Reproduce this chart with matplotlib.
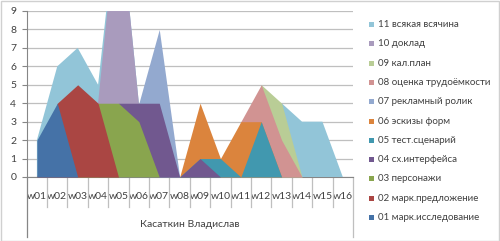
import matplotlib
matplotlib.use("Agg")
import matplotlib.pyplot as plt
from matplotlib.patches import Rectangle
import numpy as np

plt.rcParams['font.family'] = ['Lato', 'DejaVu Sans']

weeks = ['w%02d' % i for i in range(1, 17)]
group_label = 'Касаткин Владислав'

names = [
    '01 марк.исследование', '02 марк.предложение', '03 персонажи',
    '04 сх.интерфейса', '05 тест.сценарий', '06 эскизы форм',
    '07 рекламный ролик', '08 оценка трудоёмкости', '09 кал.план',
    '10 доклад', '11 всякая всячина',
]

s01 = [2, 4, 0, 0, 0, 0, 0, 0, 0, 0, 0, 0, 0, 0, 0, 0]
s02 = [0, 4, 5, 4, 0, 0, 0, 0, 0, 0, 0, 0, 0, 0, 0, 0]
s03 = [0, 0, 0, 4, 4, 3, 0, 0, 0, 0, 0, 0, 0, 0, 0, 0]
s04 = [0, 0, 0, 0, 4, 4, 4, 0, 1, 0, 0, 0, 0, 0, 0, 0]
s05 = [0, 0, 0, 0, 0, 0, 0, 0, 1, 1, 0, 3, 0, 0, 0, 0]
s06 = [0, 0, 0, 0, 0, 0, 0, 0, 4, 1, 3, 3, 0, 0, 0, 0]
s07 = [0, 0, 0, 0, 0, 4, 8, 0, 0, 0, 0, 0, 0, 0, 0, 0]
s08 = [0, 0, 0, 0, 0, 0, 0, 0, 0, 0, 3, 5, 2, 0, 0, 0]
s09 = [0, 0, 0, 0, 0, 0, 0, 0, 0, 0, 0, 5, 4, 0, 0, 0]
s10 = [0, 0, 0, 4, 15, 4, 0, 0, 0, 0, 0, 0, 0, 0, 0, 0]
s11 = [2, 6, 7, 5, 15, 4, 0, 0, 0, 0, 0, 0, 4, 3, 3, 0]
series = [s01, s02, s03, s04, s05, s06, s07, s08, s09, s10, s11]

colors = ['#4572A7', '#AA4643', '#89A54E', '#71588F', '#4198AF', '#DB843D',
          '#93A9CF', '#D19392', '#B9CD96', '#A99BBD', '#92C5D8']

text_color = '#404040'
grid_color = '#BFBFBF'
axis_color = '#868686'

fig = plt.figure(figsize=(5, 2.41), dpi=100)
ax = fig.add_axes([26.7 / 500, 1 - 177 / 241, (353 - 26.7) / 500, 166 / 241])

x = np.arange(len(weeks))
# series 11 at the back, series 01 in front
for i in range(len(series) - 1, -1, -1):
    ax.fill_between(x, 0, series[i], color=colors[i], lw=0, zorder=2 + (len(series) - i))

ax.set_xlim(-0.5, len(weeks) - 0.5)
ax.set_ylim(0, 9)
ax.set_yticks(range(0, 10))
ax.yaxis.grid(True, color=grid_color, lw=0.9)
ax.set_axisbelow(True)
for sp in ['top', 'right']:
    ax.spines[sp].set_visible(False)
ax.spines['left'].set_color(axis_color)
ax.spines['bottom'].set_color(axis_color)
ax.tick_params(axis='y', length=3.5, color=axis_color, labelsize=7.5,
               labelcolor=text_color, pad=4)
ax.set_xticks(x)
ax.set_xticklabels(weeks)
ax.tick_params(axis='x', length=0, labelsize=7.5, labelcolor=text_color, pad=11)

# category label dividers
tr = ax.get_xaxis_transform()
inner = -30 / 166
outer = -60 / 166
for b in np.arange(0.5, len(weeks) - 1, 1.0):
    ax.plot([b, b], [0, inner], transform=tr, color=grid_color, lw=0.9, clip_on=False)
for b in [-0.5, len(weeks) - 0.5]:
    ax.plot([b, b], [0, outer], transform=tr, color=axis_color if b < 0 else grid_color,
            lw=0.9, clip_on=False)
ax.text((len(weeks) - 1) / 2, -47 / 166, group_label, transform=tr, ha='center',
        va='center', fontsize=7.5, color=text_color)

# legend, 11 at top
leg_x = 369 / 500
top_y = 24.5
step = 19.3
for k, i in enumerate(range(len(names) - 1, -1, -1)):
    yc = 1 - (top_y + k * step) / 241
    fig.patches.append(Rectangle((leg_x, yc - 2.5 / 241), 5 / 500, 5 / 241,
                                 transform=fig.transFigure, color=colors[i], lw=0))
    fig.text(378 / 500, yc, names[i], ha='left', va='center', fontsize=7,
             color=text_color)

fig.patches.append(Rectangle((0.001, 0.002), 0.997, 0.995, transform=fig.transFigure,
                             fill=False, edgecolor='#D0D0D0', lw=1))

fig.savefig('out.png', dpi=100)
